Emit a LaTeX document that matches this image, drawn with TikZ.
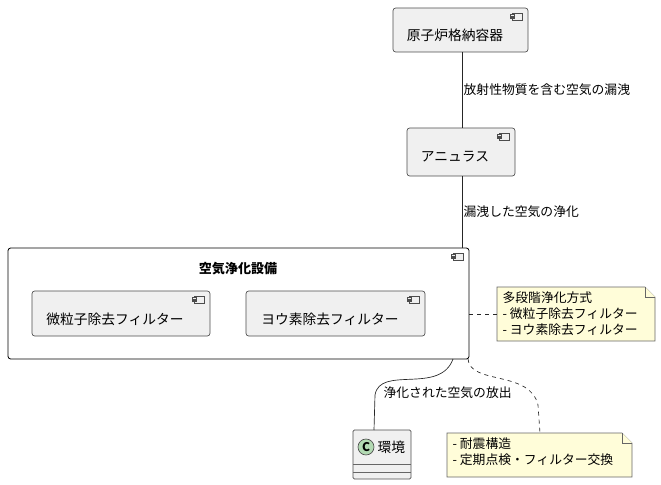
\documentclass[tikz,border=0pt]{standalone}
\usepackage{fontspec}
\setmainfont{Noto Sans CJK JP}
\usetikzlibrary{positioning, calc}

\tikzset{
  comp/.style={draw=black!70, fill=black!6, rounded corners=2pt, line width=0.5pt},
  frame/.style={draw=black, fill=white, rounded corners=2pt, line width=0.6pt},
  memo/.style={draw=black!60, fill=yellow!15, line width=0.5pt},
  lbl/.style={font=\fontsize{9.6}{12}\selectfont, inner sep=1pt},
  ctext/.style={font=\fontsize{10.3}{12}\selectfont, inner sep=1pt},
  link/.style={draw=black!85, line width=0.5pt},
}
% component icon at top-right corner
\newcommand{\compicon}[1]{%
  \draw[black!70, fill=black!6, line width=0.4pt] ($(#1)+(-16,5)$) rectangle ($(#1)+(-6,12)$);
  \draw[black!70, fill=black!6, line width=0.4pt] ($(#1)+(-18,6.5)$) rectangle ($(#1)+(-14,8)$);
  \draw[black!70, fill=black!6, line width=0.4pt] ($(#1)+(-18,9)$) rectangle ($(#1)+(-14,10.5)$);
}
% note with folded corner
\newcommand{\memobox}[4]{%
  \draw[memo] (#1,#2) -- (#3-10,#2) -- (#3,#2+10) -- (#3,#4) -- (#1,#4) -- cycle;
  \draw[memo] (#3-10,#2) -- (#3-10,#2+10) -- (#3,#2+10);
}

\begin{document}
\begin{tikzpicture}[x=0.75pt, y=-0.75pt]
\useasboundingbox (0,0) rectangle (661,485);

% containment vessel
\draw[comp] (393,8) rectangle (528,52);
\compicon{528,8}
\node[ctext] (vessel) at (455,35) {原子炉格納容器};
\coordinate (vesselS) at (462,52);

% annulus
\draw[comp] (407,128) rectangle (515,176);
\compicon{515,128}
\node[ctext] (annulus) at (455,157) {アニュラス};
\coordinate (annulusN) at (462,128);
\coordinate (annulusS) at (462,176);

% air purification system
\draw[frame] (8,248) rectangle (469,359);
\compicon{469,248}
\node[ctext, font=\bfseries\fontsize{9.8}{12}\selectfont] (system) at (238,269) {空気浄化設備};
\coordinate (systemN) at (462,248);
\coordinate (systemE) at (469,314);
\coordinate (systemS1) at (453,359);
\coordinate (systemS2) at (468,359);

\draw[comp] (32,291) rectangle (210,336);
\compicon{210,291}
\node[ctext] (particle) at (115,319) {微粒子除去フィルター};

\draw[comp] (246,291) rectangle (425,336);
\compicon{425,291}
\node[ctext] (iodine) at (330,319) {ヨウ素除去フィルター};

% environment
\draw[comp, rounded corners=1pt] (353,430) rectangle (411,479);
\draw[black!60, line width=0.4pt] (353,464) -- (411,464);
\draw[black!60, line width=0.4pt] (353,472) -- (411,472);
\draw[black!70, fill=green!50!black!30, line width=0.5pt] (366,447) circle (8);
\node[lbl, font=\bfseries\fontsize{9}{11}\selectfont] at (366,447) {C};
\node[ctext, anchor=west] (env) at (376,447) {環境};
\coordinate (envN) at (374,430);

% notes
\memobox{497}{287}{655}{341}
\node[lbl, anchor=north west, align=left] (memoA) at (501,290) {多段階浄化方式\\- 微粒子除去フィルター\\- ヨウ素除去フィルター};
\coordinate (memoAW) at (497,314);
\memobox{447}{433}{632}{477}
\node[lbl, anchor=north west, align=left] (memoB) at (451,436) {- 耐震構造\\- 定期点検・フィルター交換};
\coordinate (memoBN) at (540,433);

% connectors
\draw[link] (vesselS) -- (annulusN) node[lbl, midway, right=0pt] {放射性物質を含む空気の漏洩};
\draw[link] (annulusS) -- (systemN) node[lbl, midway, right=0pt] {漏洩した空気の浄化};
\draw[link, dashed] (systemE) -- (memoAW);
\draw[link] (systemS1) .. controls (440,395) and (380,365) .. (375,395) -- (envN);
\node[lbl, anchor=west] at (382,393) {浄化された空気の放出};
\draw[link, dashed] (systemS2) .. controls (470,385) and (530,370) .. (538,405) -- (memoBN);
\end{tikzpicture}
\end{document}
